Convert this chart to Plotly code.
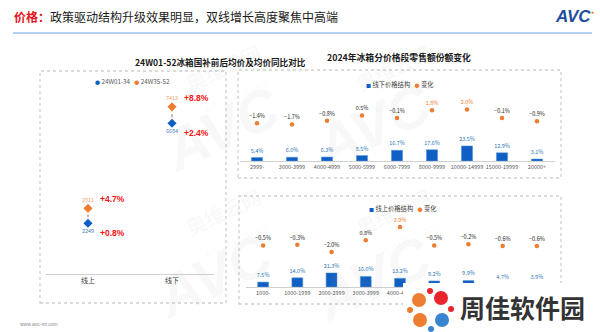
import plotly.graph_objects as go

# ---------------- data ----------------
chan_cats = ["线上", "线下"]
period_names = ["24W01-34", "24W35-52"]
price_p1 = [2249, 6684]
price_p2 = [2911, 7413]
yoy_p1 = [0.8, 2.4]
yoy_p2 = [4.7, 8.8]

top_cats = ["2999-", "3000-3999", "4000-4999", "5000-5999", "6000-7999",
            "8000-9999", "10000-14999", "15000-19999", "20000+"]
top_share = [5.4, 6.0, 6.3, 8.5, 16.7, 17.6, 23.5, 12.9, 3.1]
top_change = [-1.4, -1.7, -0.8, 0.5, -0.1, 1.8, 2.0, -0.1, -0.9]

bot_cats = ["1000-", "1000-1999", "2000-2999", "3000-3999", "4000-4999",
            "5000-5999", "6000-7999", "8000-9999", "10000+"]
bot_share = [7.5, 14.0, 21.3, 16.0, 13.2, 9.2, 9.9, 4.7, 3.9]
bot_change = [-0.5, -0.3, -2.0, 0.8, 3.9, -0.5, -0.2, -0.6, -0.6]

W, H = 600, 332
FONT = "Noto Sans CJK SC, Microsoft YaHei, sans-serif"
BLUE = "#0f5fc4"
ORANGE = "#ed7d31"


def px(x):
    return x / W


def py(y):
    return 1 - y / H


def fmt(v):
    s = f"{abs(v):.1f}%"
    return ("−" + s) if v < 0 else s


fig = go.Figure()

# ---------------- left dumbbell ----------------
for i, c in enumerate(chan_cats):
    fig.add_trace(go.Scatter(x=[c, c], y=[price_p1[i], price_p2[i]], mode="lines",
                             line=dict(color="#a6a6a6", width=1.5, dash="dot"),
                             xaxis="x", yaxis="y", showlegend=False, hoverinfo="skip"))
fig.add_trace(go.Scatter(x=chan_cats, y=price_p1, mode="markers+text",
                         marker=dict(symbol="diamond", size=7, color=BLUE),
                         text=[str(v) for v in price_p1], textposition="bottom center",
                         textfont=dict(size=5.5, color="#4a7fc1", family=FONT),
                         xaxis="x", yaxis="y", showlegend=False, cliponaxis=False))
fig.add_trace(go.Scatter(x=chan_cats, y=price_p2, mode="markers+text",
                         marker=dict(symbol="diamond", size=7, color=ORANGE),
                         text=[str(v) for v in price_p2], textposition="top center",
                         textfont=dict(size=5.5, color="#f4a46c", family=FONT),
                         xaxis="x", yaxis="y", showlegend=False, cliponaxis=False))

# ---------------- right top ----------------
fig.add_trace(go.Bar(x=top_cats, y=top_share, width=0.32,
                     marker=dict(color=BLUE, line=dict(color="#5b9bd5", width=0.5)),
                     text=[f"{v:.1f}%" for v in top_share], textposition="outside",
                     constraintext="none",
                     textfont=dict(size=5.5, color="#2e75b6", family=FONT),
                     xaxis="x2", yaxis="y2", showlegend=False, cliponaxis=False))
fig.add_trace(go.Scatter(x=top_cats, y=top_change, mode="markers+text",
                         marker=dict(size=4.5, color=ORANGE),
                         text=[fmt(v) for v in top_change], textposition="top center",
                         textfont=dict(size=5.5, family=FONT,
                                       color=[ORANGE if v >= 1 else "#262626" for v in top_change]),
                         xaxis="x2", yaxis="y3", showlegend=False, cliponaxis=False))

# ---------------- right bottom ----------------
fig.add_trace(go.Bar(x=bot_cats, y=bot_share, width=0.32,
                     marker=dict(color=BLUE, line=dict(color="#5b9bd5", width=0.5)),
                     text=[f"{v:.1f}%" for v in bot_share], textposition="outside",
                     constraintext="none",
                     textfont=dict(size=5.5, color="#2e75b6", family=FONT),
                     xaxis="x3", yaxis="y4", showlegend=False, cliponaxis=False))
fig.add_trace(go.Scatter(x=bot_cats, y=bot_change, mode="markers+text",
                         marker=dict(size=4.5, color=ORANGE),
                         text=[fmt(v) for v in bot_change], textposition="top center",
                         textfont=dict(size=5.5, family=FONT,
                                       color=[ORANGE if v >= 1 else "#262626" for v in bot_change]),
                         xaxis="x3", yaxis="y5", showlegend=False, cliponaxis=False))

tickfont = dict(size=5.5, color="#595959", family=FONT)
axis_common = dict(showgrid=False, zeroline=False, ticks="", fixedrange=True)

layout = dict(
    width=W, height=H, margin=dict(l=0, r=0, t=0, b=0),
    paper_bgcolor="white", plot_bgcolor="rgba(0,0,0,0)",
    font=dict(family=FONT),
    bargap=0.3,
    xaxis=dict(domain=[px(46), px(214)], range=[-0.5, 1.5], anchor="y",
               showline=True, linecolor="#d0d0d0", linewidth=1,
               tickfont=dict(size=7, color="#404040", family=FONT), **axis_common),
    yaxis=dict(domain=[py(274), py(93.6)], range=[0, 8000], anchor="x",
               visible=False, **axis_common),
    xaxis2=dict(domain=[px(239.5), px(554.5)], range=[-0.5, 8.5], anchor="y2",
                showline=True, linecolor="#d0d0d0", linewidth=1,
                tickfont=tickfont, **axis_common),
    yaxis2=dict(domain=[py(161), py(75)], range=[0, 134], anchor="x2",
                visible=False, **axis_common),
    yaxis3=dict(range=[-10.6, 10.4], overlaying="y2", anchor="x2",
                visible=False, **axis_common),
    xaxis3=dict(domain=[px(246), px(554)], range=[-0.5, 8.5], anchor="y4",
                showline=True, linecolor="#d0d0d0", linewidth=1,
                tickmode="array", tickvals=bot_cats[:5], ticktext=bot_cats[:5],
                tickfont=tickfont, **axis_common),
    yaxis4=dict(domain=[py(287), py(200)], range=[0, 132], anchor="x3",
                visible=False, **axis_common),
    yaxis5=dict(range=[-10.36, 10.36], overlaying="y4", anchor="x3",
                visible=False, **axis_common),
)
fig.update_layout(**layout)

shapes = []
# title underline
shapes.append(dict(type="line", xref="paper", yref="paper", x0=px(13), x1=px(592),
                   y0=py(33), y1=py(33), line=dict(color="#9dc3e6", width=1.5)))
# dotted panel frames
for (x0, y0, x1, y1) in [(40, 71, 226, 303), (238, 70, 561, 178), (239, 196, 561, 304)]:
    shapes.append(dict(type="rect", xref="paper", yref="paper", x0=px(x0), x1=px(x1),
                       y0=py(y1), y1=py(y0), line=dict(color="#cfcfcf", width=1.3, dash="dot"),
                       layer="below"))
# watermark-site badge (white box + pinwheel)
shapes.append(dict(type="rect", xref="paper", yref="paper", x0=px(403), x1=px(600),
                   y0=py(332), y1=py(283), fillcolor="white", line=dict(width=0), layer="above"))
for (cx, cy, r, col) in [(419, 300, 7, "#ed7d31"), (441, 298, 7, "#e8262b"),
                         (420, 320, 7, "#ed7d31"), (442, 320, 7, "#3a85d0"),
                         (430, 291, 3, "#e8262b"), (410, 310, 3, "#ed7d31"),
                         (431, 329, 3, "#3a85d0"), (451, 309, 3, "#e8262b")]:
    shapes.append(dict(type="circle", xref="paper", yref="paper", x0=px(cx - r), x1=px(cx + r),
                       y0=py(cy + r), y1=py(cy - r), fillcolor=col, line=dict(width=0),
                       layer="above"))
fig.update_layout(shapes=shapes)

ann = []
# faint background watermarks
for (x, y) in [(150, 128), (372, 125), (142, 275), (372, 278)]:
    ann.append(dict(xref="paper", yref="paper", x=px(x), y=py(y), showarrow=False,
                    yanchor="middle",
                    text="<b><i>AVC</i></b>", textangle=-25,
                    font=dict(size=58, color="rgba(160,160,160,0.07)", family="Arial")))
for (x, y) in [(228, 78), (448, 78), (228, 222), (448, 222)]:
    ann.append(dict(xref="paper", yref="paper", x=px(x), y=py(y), showarrow=False,
                    yanchor="middle",
                    text="<b>奥维云网</b><br><span style='font-size:9px'>ALL VIEW CLOUD</span>",
                    textangle=-25,
                    font=dict(size=20, color="rgba(160,160,160,0.08)", family=FONT)))
# title
ann.append(dict(xref="paper", yref="paper", x=px(12), y=py(17), xanchor="left", yanchor="middle",
                showarrow=False,
                text="<span style='color:#e8141b'><b>价格：</b></span>政策驱动结构升级效果明显，双线增长高度聚焦中高端",
                font=dict(size=12, color="#1a1a1a", family=FONT)))
# AVC logo
ann.append(dict(xref="paper", yref="paper", x=px(593), y=py(17), xanchor="right", yanchor="middle",
                showarrow=False, text="<b><i>AVC</i></b>",
                font=dict(size=17, color="#1f4e9c", family="Arial")))
ann.append(dict(xref="paper", yref="paper", x=px(592), y=py(12), xanchor="center", yanchor="middle",
                showarrow=False, text="●", font=dict(size=5, color=ORANGE, family="Arial")))
# subtitles
ann.append(dict(xref="paper", yref="paper", x=px(133), y=py(62), showarrow=False, yanchor="middle",
                text="<b>24W01-52冰箱国补前后均价及均价同比对比</b>",
                font=dict(size=8.6, color="#1a1a1a", family=FONT)))
ann.append(dict(xref="paper", yref="paper", x=px(399), y=py(58), showarrow=False, yanchor="middle",
                text="<b>2024年冰箱分价格段零售额份额变化</b>",
                font=dict(size=8.8, color="#1a1a1a", family=FONT)))
# legends
ann.append(dict(xref="paper", yref="paper", x=px(93), y=py(81), xanchor="left", yanchor="middle",
                showarrow=False,
                text=f"<span style='color:{BLUE};font-size:5px'>●</span> {period_names[0]}   "
                     f"<span style='color:{ORANGE};font-size:5px'>●</span> {period_names[1]}",
                font=dict(size=6.3, color="#595959", family=FONT)))
ann.append(dict(xref="paper", yref="paper", x=px(364), y=py(84), xanchor="left", yanchor="middle",
                showarrow=False,
                text=f"<span style='color:{BLUE};font-size:5px'>■</span> 线下价格结构   "
                     f"<span style='color:{ORANGE};font-size:5px'>●</span> 变化",
                font=dict(size=6.3, color="#404040", family=FONT)))
ann.append(dict(xref="paper", yref="paper", x=px(367), y=py(209), xanchor="left", yanchor="middle",
                showarrow=False,
                text=f"<span style='color:{BLUE};font-size:5px'>■</span> 线上价格结构   "
                     f"<span style='color:{ORANGE};font-size:5px'>●</span> 变化",
                font=dict(size=6.3, color="#404040", family=FONT)))
# yoy labels on the dumbbell
for i, c in enumerate(chan_cats):
    ann.append(dict(xref="x", yref="y", x=c, y=price_p2[i], xshift=24, yshift=9, showarrow=False,
                    yanchor="middle",
                    text=f"<b>+{yoy_p2[i]:.1f}%</b>",
                    font=dict(size=8.5, color="#ff1010", family="Arial")))
    ann.append(dict(xref="x", yref="y", x=c, y=price_p1[i], xshift=24, yshift=-10, showarrow=False,
                    yanchor="middle",
                    text=f"<b>+{yoy_p1[i]:.1f}%</b>",
                    font=dict(size=8.5, color="#ff1010", family="Arial")))
# footer
ann.append(dict(xref="paper", yref="paper", x=px(18), y=py(324), xanchor="left", yanchor="middle",
                showarrow=False,
                text="www.avc-mr.com", font=dict(size=5, color="#8c8c8c", family="Arial")))
# site badge text
ann.append(dict(xref="paper", yref="paper", x=px(458), y=py(307), xanchor="left", yanchor="middle",
                showarrow=False, text="<b>周佳软件园</b>",
                font=dict(size=25, color="#333333", family=FONT)))
fig.update_layout(annotations=ann)

fig.write_html("out.html")
